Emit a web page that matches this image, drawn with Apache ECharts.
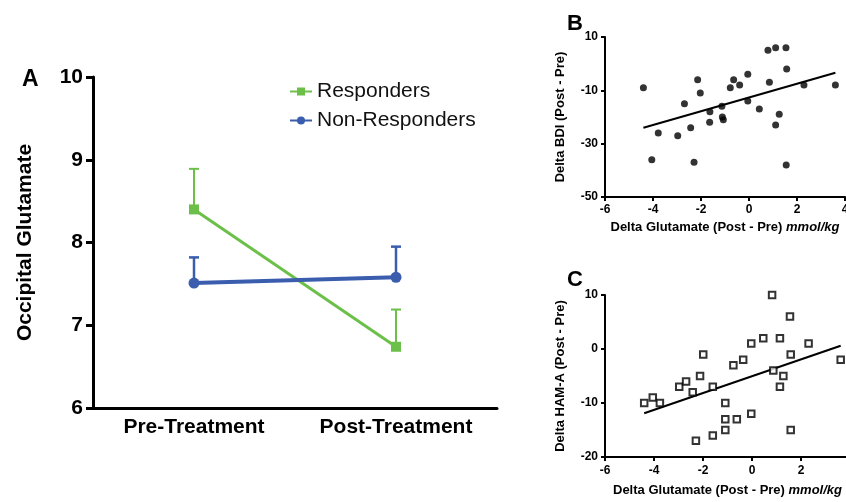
<!DOCTYPE html>
<html><head><meta charset="utf-8">
<script src="https://cdn.jsdelivr.net/npm/echarts@6/dist/echarts.min.js"></script>
<style>html,body{margin:0;padding:0;background:#fff}#c{width:846px;height:502px}</style>
</head><body><div id="c"></div>
<script>
// Panel A
const categories = ['Pre-Treatment', 'Post-Treatment'];
const respMean = [8.4, 6.74];
const respUpper = [8.89, 7.19];
const nonMean = [7.51, 7.58];
const nonUpper = [7.82, 7.95];
// Panel B
const bdiX = [-4.40,-4.05,-3.78,-2.97,-2.69,-2.43,-2.29,-2.14,-2.03,-1.63,-1.64,-1.13,-1.11,-1.07,-0.78,-0.64,-0.39,-0.05,-0.05,0.43,0.79,0.85,1.11,1.11,1.26,1.54,1.57,1.55,2.29,3.60];
const bdiY = [-9,-36,-26,-27,-15,-24,-37,-6,-11,-18,-22,-16,-20,-21,-9,-6,-8,-4,-14,-17,5,-7,6,-23,-19,6,-2,-38,-8,-8];
const bdiFitX = [-4.4, 3.6];
const bdiFitY = [-24.0, -3.4];
const bdiTicks = [-50, -30, -10, 10];
// Panel C
const hamX = [-4.40,-4.05,-3.76,-2.97,-2.69,-2.42,-2.29,-2.12,-1.99,-1.60,-1.60,-1.09,-1.09,-1.09,-0.76,-0.62,-0.36,-0.03,-0.03,0.46,0.82,0.87,1.14,1.14,1.28,1.55,1.58,1.58,2.31,3.62];
const hamY = [-10,-9,-10,-7,-6,-8,-17,-5,-1,-7,-16,-10,-13,-15,-3,-13,-2,-12,1,2,10,-4,2,-7,-5,6,-1,-15,1,-2];
const hamFitX = [-4.4, 3.62];
const hamFitY = [-11.9, 0.6];

const FONT = "'Liberation Sans', Arial, Helvetica, sans-serif";
const GREEN = '#6cc04a';
const BLUE = '#3a5dae';
const INK = '#000';

function errBar(means, uppers, color, lw) {
  return {
    type: 'custom', xAxisIndex: 0, yAxisIndex: 0, z: 1,
    data: means.map((m, i) => [i, m, uppers[i]]),
    renderItem: (params, api) => {
      const p0 = api.coord([api.value(0), api.value(1)]);
      const p1 = api.coord([api.value(0), api.value(2)]);
      const hw = 5;
      return { type: 'group', children: [
        { type: 'line', shape: { x1: p0[0], y1: p0[1], x2: p1[0], y2: p1[1] }, style: { stroke: color, lineWidth: lw } },
        { type: 'line', shape: { x1: p1[0] - hw, y1: p1[1], x2: p1[0] + hw, y2: p1[1] }, style: { stroke: color, lineWidth: lw } }
      ]};
    }
  };
}

function smallX(grid, nameGap, margin) {
  return {
    gridIndex: grid, type: 'value', min: -6, max: 4, interval: 2,
    axisLine: { show: true, onZero: false, lineStyle: { color: INK, width: 2 } },
    axisTick: { show: true, length: 4, lineStyle: { color: INK, width: 2 } },
    axisLabel: { fontSize: 12, fontWeight: 'bold', color: INK, margin: margin, fontFamily: FONT },
    splitLine: { show: false },
    name: '{b|Delta Glutamate (Post - Pre)} {i|mmol/kg}',
    nameLocation: 'middle', nameGap: nameGap,
    nameTextStyle: { fontFamily: FONT, color: INK, fontSize: 13,
      rich: { b: { fontSize: 13, fontWeight: 'bold', fontFamily: FONT, color: INK },
              i: { fontSize: 13, fontWeight: 'bold', fontStyle: 'italic', fontFamily: FONT, color: INK } } }
  };
}

function smallY(grid, extra, name) {
  return Object.assign({
    gridIndex: grid, type: 'value',
    axisLine: { show: true, onZero: false, lineStyle: { color: INK, width: 2 } },
    axisTick: { show: true, length: 4, lineStyle: { color: INK, width: 2 } },
    axisLabel: { fontSize: 12, fontWeight: 'bold', color: INK, margin: 7, fontFamily: FONT },
    splitLine: { show: false },
    name: name, nameLocation: 'middle', nameGap: 38,
    nameTextStyle: { fontSize: 13, fontWeight: 'bold', color: INK, fontFamily: FONT }
  }, extra);
}

const chart = echarts.init(document.getElementById('c'), null, { renderer: 'canvas' });
chart.setOption({
  backgroundColor: '#fff',
  animation: false,
  title: [
    { text: 'A', left: 17, top: 63, textStyle: { fontSize: 23, fontWeight: 'bold', color: INK, fontFamily: FONT } },
    { text: 'B', left: 562, top: 8, textStyle: { fontSize: 22, fontWeight: 'bold', color: INK, fontFamily: FONT } },
    { text: 'C', left: 562, top: 264, textStyle: { fontSize: 22, fontWeight: 'bold', color: INK, fontFamily: FONT } }
  ],
  legend: {
    data: ['Responders', 'Non-Responders'], orient: 'vertical', left: 284, top: 76,
    itemWidth: 22, itemHeight: 10, itemGap: 8,
    textStyle: { fontSize: 21, color: '#111', fontFamily: FONT }
  },
  grid: [
    { left: 93, top: 77, width: 404, height: 331, outerBoundsMode: 'none' },
    { left: 605, top: 37, width: 240, height: 160, outerBoundsMode: 'none' },
    { left: 605, top: 295, width: 245, height: 162, outerBoundsMode: 'none' }
  ],
  xAxis: [
    { gridIndex: 0, type: 'category', data: categories, boundaryGap: true,
      axisLine: { lineStyle: { color: INK, width: 3 } },
      axisTick: { alignWithLabel: true, length: 7, lineStyle: { color: INK, width: 3 } },
      axisLabel: { fontSize: 21, fontWeight: 'bold', color: INK, margin: 9, fontFamily: FONT },
      splitLine: { show: false } },
    smallX(1, 24, 7),
    smallX(2, 27, 8)
  ],
  yAxis: [
    { gridIndex: 0, type: 'value', min: 6, max: 10, interval: 1,
      axisLine: { show: true, lineStyle: { color: INK, width: 3 } },
      axisTick: { show: true, length: 7, lineStyle: { color: INK, width: 3 } },
      axisLabel: { fontSize: 21, fontWeight: 'bold', color: INK, margin: 10, fontFamily: FONT },
      splitLine: { show: false },
      name: 'Occipital Glutamate', nameLocation: 'middle', nameGap: 57,
      nameTextStyle: { fontSize: 21, fontWeight: 'bold', color: INK, fontFamily: FONT } },
    smallY(1, { min: -50, max: 10,
      axisTick: { show: true, length: 4, customValues: bdiTicks, lineStyle: { color: INK, width: 2 } },
      axisLabel: { fontSize: 12, fontWeight: 'bold', color: INK, margin: 7, fontFamily: FONT, customValues: bdiTicks } },
      'Delta BDI (Post - Pre)'),
    smallY(2, { min: -20, max: 10, interval: 10 }, 'Delta HAM-A (Post - Pre)')
  ],
  series: [
    errBar(respMean, respUpper, GREEN, 2),
    errBar(nonMean, nonUpper, BLUE, 2.5),
    { name: 'Responders', type: 'line', xAxisIndex: 0, yAxisIndex: 0, data: respMean,
      symbol: 'rect', symbolSize: 10, lineStyle: { color: GREEN, width: 3 }, itemStyle: { color: GREEN }, z: 2 },
    { name: 'Non-Responders', type: 'line', xAxisIndex: 0, yAxisIndex: 0, data: nonMean,
      symbol: 'circle', symbolSize: 11, lineStyle: { color: BLUE, width: 4 }, itemStyle: { color: BLUE }, z: 3 },
    { type: 'scatter', xAxisIndex: 1, yAxisIndex: 1, data: bdiX.map((x, i) => [x, bdiY[i]]),
      symbol: 'circle', symbolSize: 7, itemStyle: { color: INK } },
    { type: 'line', xAxisIndex: 1, yAxisIndex: 1, data: bdiFitX.map((x, i) => [x, bdiFitY[i]]),
      symbol: 'none', lineStyle: { color: INK, width: 2 } },
    { type: 'scatter', xAxisIndex: 2, yAxisIndex: 2, data: hamX.map((x, i) => [x, hamY[i]]),
      symbol: 'rect', symbolSize: 6.5, itemStyle: { color: '#fff', borderColor: INK, borderWidth: 2 }, z: 3 },
    { type: 'line', xAxisIndex: 2, yAxisIndex: 2, data: hamFitX.map((x, i) => [x, hamFitY[i]]),
      symbol: 'none', lineStyle: { color: INK, width: 2 }, z: 2 }
  ]
});
</script>
</body></html>
